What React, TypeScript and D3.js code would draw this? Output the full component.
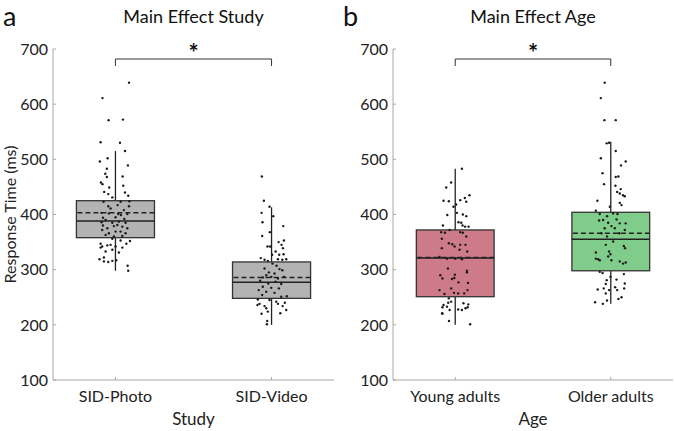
import React from "react";
import * as d3 from "d3";

// ---------- DATA ----------
const yTicks = [100, 200, 300, 400, 500, 600, 700];
const studyCategories = ["SID-Photo", "SID-Video"];
const ageCategories = ["Young adults", "Older adults"];

// box stats: [whiskerLow, q1, median, q3, whiskerHigh, mean]
const statsPhoto = [298, 358, 388, 425, 515, 403];
const statsVideo = [200, 248, 277, 314, 413, 286];
const statsYoung = [200, 251, 321, 372, 483, 322];
const statsOlder = [238, 298, 355, 404, 532, 366];

// individual points: [jitter (category units), value]
const pointsPhoto: [number, number][] = [
  [0.087, 639], [-0.083, 611], [-0.044, 571], [0.048, 572], [-0.095, 531], [0.029, 530], [0.061, 515],
  [-0.1, 496], [-0.05, 502], [0.08, 489], [-0.055, 483], [-0.065, 474], [-0.055, 468], [0.046, 469],
  [-0.093, 458], [-0.083, 455], [-0.04, 449], [0.05, 452], [-0.072, 441], [-0.046, 437], [0.061, 440],
  [0.082, 434], [-0.02, 431], [-0.076, 423], [0.033, 423], [0.089, 424], [-0.046, 415], [0.014, 417],
  [0.087, 415], [-0.089, 403], [-0.042, 402], [0.018, 401], [0.035, 399], [0.076, 401], [0.001, 395],
  [-0.08, 394], [0.057, 392], [-0.089, 386], [-0.02, 385], [0.022, 387], [0.065, 385], [-0.08, 380],
  [-0.052, 375], [0.012, 381], [0.044, 378], [-0.085, 372], [0.001, 369], [0.033, 369], [0.065, 366],
  [-0.063, 363], [-0.01, 360], [0.044, 361], [-0.02, 356], [-0.095, 347], [0.033, 353], [0.093, 352],
  [0.07, 347], [-0.085, 342], [-0.052, 344], [-0.031, 345], [0.001, 342], [0.044, 340], [-0.095, 340],
  [-0.02, 336], [-0.063, 333], [0.022, 331], [-0.102, 319], [-0.074, 322], [-0.046, 314], [-0.02, 316],
  [0.005, 317], [0.078, 307], [0.082, 298], [-0.074, 315], [-0.031, 411], [0.054, 408], [-0.063, 390],
  [-0.01, 379], [-0.042, 366], [0.076, 375],
];
const pointsVideo: [number, number][] = [
  [-0.062, 469], [-0.049, 425], [-0.013, 414], [-0.064, 403], [0.011, 397], [-0.058, 386], [0.075, 379],
  [-0.06, 361], [-0.011, 368], [0.045, 350], [0.079, 353], [-0.026, 342], [-0.009, 342], [0.064, 345],
  [0.073, 339], [0.026, 333], [0.004, 327], [0.049, 327], [0.077, 328], [-0.069, 321], [-0.045, 318],
  [-0.024, 316], [0.041, 319], [0.069, 318], [0.094, 319], [0.006, 311], [0.032, 307], [-0.045, 302],
  [0.051, 301], [-0.017, 295], [0.019, 293], [0.069, 299], [-0.034, 290], [-0.002, 287], [-0.056, 286],
  [0.041, 284], [0.079, 287], [-0.073, 280], [0.026, 278], [-0.021, 275], [0.062, 274], [-0.056, 269],
  [-0.002, 267], [0.047, 266], [-0.082, 263], [-0.034, 260], [0.019, 258], [0.098, 252], [-0.06, 254],
  [0.062, 251], [-0.088, 246], [-0.013, 245], [0.03, 242], [-0.077, 238], [-0.045, 234], [0.041, 238],
  [0.071, 234], [-0.034, 230], [0.094, 227], [-0.024, 224], [0.056, 221], [-0.064, 220], [-0.028, 207],
  [-0.03, 201], [-0.09, 236], [0.085, 240],
];
const pointsYoung: [number, number][] = [
  [0.043, 483], [-0.026, 458], [-0.058, 449], [0.092, 435], [0.062, 430], [-0.075, 425], [-0.041, 424],
  [0.032, 426], [0.071, 423], [-0.011, 414], [0.006, 418], [0.011, 403], [-0.051, 399], [0.049, 400],
  [0.071, 397], [0.021, 386], [0.039, 385], [-0.079, 380], [0.047, 380], [0.086, 378], [0.064, 378],
  [-0.09, 368], [-0.066, 367], [-0.036, 372], [0.032, 368], [0.049, 367], [-0.086, 356], [0.071, 360],
  [-0.041, 348], [-0.019, 346], [-0.004, 342], [0.032, 345], [0.066, 345], [-0.086, 339], [0.028, 336],
  [0.077, 333], [-0.101, 323], [-0.053, 320], [0.0, 320], [0.043, 319], [-0.047, 302], [0.075, 298],
  [0.075, 295], [-0.096, 290], [-0.082, 284], [-0.002, 291], [-0.006, 285], [0.021, 277], [-0.021, 283],
  [0.082, 276], [-0.101, 263], [-0.026, 266], [-0.008, 258], [0.019, 257], [0.079, 263], [-0.069, 256],
  [0.058, 257], [-0.041, 248], [-0.026, 242], [-0.075, 236], [-0.053, 233], [-0.082, 232], [0.053, 239],
  [0.084, 237], [0.019, 228], [0.043, 227], [0.066, 230], [-0.036, 227], [-0.045, 240], [-0.082, 220],
  [-0.04, 207], [0.096, 201], [-0.084, 221], [0.08, 232],
];
const pointsOlder: [number, number][] = [
  [-0.039, 639], [-0.064, 611], [-0.041, 571], [0.032, 571], [-0.026, 529], [-0.011, 530], [0.032, 515],
  [-0.064, 502], [0.096, 496], [0.066, 489], [-0.053, 475], [0.032, 468], [0.049, 469], [-0.043, 455],
  [0.03, 452], [0.064, 446], [0.041, 441], [0.058, 438], [0.079, 435], [0.09, 433], [-0.086, 425],
  [0.058, 421], [0.069, 417], [-0.006, 414], [-0.096, 407], [-0.071, 401], [-0.024, 397], [0.015, 402],
  [0.043, 401], [-0.075, 389], [-0.049, 390], [-0.017, 385], [0.037, 391], [0.058, 384], [0.096, 384],
  [0.004, 379], [-0.039, 375], [0.026, 375], [0.09, 372], [-0.06, 366], [0.054, 366], [-0.024, 360],
  [0.015, 351], [-0.032, 345], [0.084, 343], [0.092, 339], [-0.011, 333], [-0.096, 331], [-0.002, 328],
  [-0.017, 324], [-0.096, 320], [-0.071, 317], [-0.081, 319], [0.004, 317], [0.058, 315], [0.079, 311],
  [0.096, 313], [-0.071, 296], [-0.053, 294], [-0.002, 287], [0.084, 292], [-0.026, 281], [0.037, 282],
  [-0.032, 274], [0.09, 275], [-0.084, 264], [-0.045, 266], [-0.011, 263], [0.028, 268], [0.041, 263],
  [0.086, 266], [-0.032, 257], [0.049, 247], [0.069, 250], [-0.101, 241], [-0.051, 238], [-0.024, 244],
];

// ---------- LAYOUT ----------
const W = 675;
const H = 431;
const FONT = "Lato, 'Open Sans', sans-serif";
const yScale = d3.scaleLinear().domain([100, 700]).range([380, 49]);

type Group = { stats: number[]; points: [number, number][]; fill: string };

function Panel(props: {
  x0: number;
  x1: number;
  letter: string;
  title: string;
  categories: string[];
  xLabel: string;
  groups: Group[];
  showYLabel: boolean;
}) {
  const { x0, x1, letter, title, categories, xLabel, groups, showYLabel } = props;
  const xScale = d3.scaleLinear().domain([0.6, 2.4]).range([x0, x1]);
  const cx = (x0 + x1) / 2;
  const boxHalf = xScale(1.25) - xScale(1);
  const c1 = xScale(1);
  const c2 = xScale(2);
  const bracketY = 59;
  return (
    <g>
      <text x={x0 - 50} y={26} fontSize={27} fontFamily={FONT} fill="#111">{letter}</text>
      <text x={cx} y={23} fontSize={18} fontFamily={FONT} textAnchor="middle" fill="#111">{title}</text>
      {/* axes */}
      <line x1={x0} x2={x0} y1={yScale(700)} y2={yScale(100)} stroke="#a8a8a8" strokeWidth={1} />
      <line x1={x0} x2={x1} y1={yScale(100)} y2={yScale(100)} stroke="#a8a8a8" strokeWidth={1} />
      {yTicks.map((t) => (
        <g key={t}>
          <line x1={x0} x2={x0 + 3} y1={yScale(t)} y2={yScale(t)} stroke="#a8a8a8" />
          <text x={x0 - 5} y={yScale(t)} dy="0.36em" textAnchor="end" fontSize={16} fontFamily={FONT} fill="#222">{t}</text>
        </g>
      ))}
      {categories.map((c, i) => (
        <g key={c}>
          <line x1={xScale(i + 1)} x2={xScale(i + 1)} y1={yScale(100)} y2={yScale(100) - 3} stroke="#a8a8a8" />
          <text x={xScale(i + 1)} y={yScale(100) + 22} textAnchor="middle" fontSize={16} fontFamily={FONT} fill="#222">{c}</text>
        </g>
      ))}
      <text x={cx} y={yScale(100) + 45} textAnchor="middle" fontSize={17} fontFamily={FONT} fill="#222">{xLabel}</text>
      {showYLabel && (
        <text transform={`translate(${x0 - 37},${yScale(400)}) rotate(-90)`} textAnchor="middle" fontSize={16} fontFamily={FONT} fill="#222">Response Time (ms)</text>
      )}
      {/* boxes */}
      {groups.map((g, i) => {
        const xc = xScale(i + 1);
        const [wl, q1, med, q3, wh, mean] = g.stats;
        return (
          <g key={i}>
            <line x1={xc} x2={xc} y1={yScale(q3)} y2={yScale(wh)} stroke="#222" strokeWidth={1.3} />
            <line x1={xc} x2={xc} y1={yScale(q1)} y2={yScale(wl)} stroke="#222" strokeWidth={1.3} />
            <rect x={xc - boxHalf} y={yScale(q3)} width={2 * boxHalf} height={yScale(q1) - yScale(q3)} fill={g.fill} stroke="#333" strokeWidth={1.3} />
            <line x1={xc - boxHalf} x2={xc + boxHalf} y1={yScale(med)} y2={yScale(med)} stroke="#222" strokeWidth={1.5} />
            <line x1={xc - boxHalf + 1} x2={xc + boxHalf} y1={yScale(mean)} y2={yScale(mean)} stroke="#222" strokeWidth={1.5} strokeDasharray="5,3" />
            {g.points.map(([j, v], k) => (
              <circle key={k} cx={xScale(i + 1 + j)} cy={yScale(v)} r={1.2} fill="#1a1a1a" />
            ))}
          </g>
        );
      })}
      {/* significance bracket */}
      <path d={`M${c1},${bracketY + 7}V${bracketY}H${c2}V${bracketY + 7}`} fill="none" stroke="#333" strokeWidth={1} />
      <text x={(c1 + c2) / 2} y={bracketY + 3} textAnchor="middle" fontSize={24} fontWeight="bold" fontFamily={FONT} fill="#111">*</text>
    </g>
  );
}

export default function App() {
  return (
    <svg width={W} height={H} style={{ position: "absolute", left: 0, top: 0, background: "#fff" }}>
      <rect width={W} height={H} fill="#fff" />
      <Panel
        x0={53}
        x1={334}
        letter="a"
        title="Main Effect Study"
        categories={studyCategories}
        xLabel="Study"
        showYLabel={true}
        groups={[
          { stats: statsPhoto, points: pointsPhoto, fill: "#b3b3b3" },
          { stats: statsVideo, points: pointsVideo, fill: "#b3b3b3" },
        ]}
      />
      <Panel
        x0={393}
        x1={673}
        letter="b"
        title="Main Effect Age"
        categories={ageCategories}
        xLabel="Age"
        showYLabel={false}
        groups={[
          { stats: statsYoung, points: pointsYoung, fill: "#cd7b88" },
          { stats: statsOlder, points: pointsOlder, fill: "#80cc8b" },
        ]}
      />
    </svg>
  );
}
